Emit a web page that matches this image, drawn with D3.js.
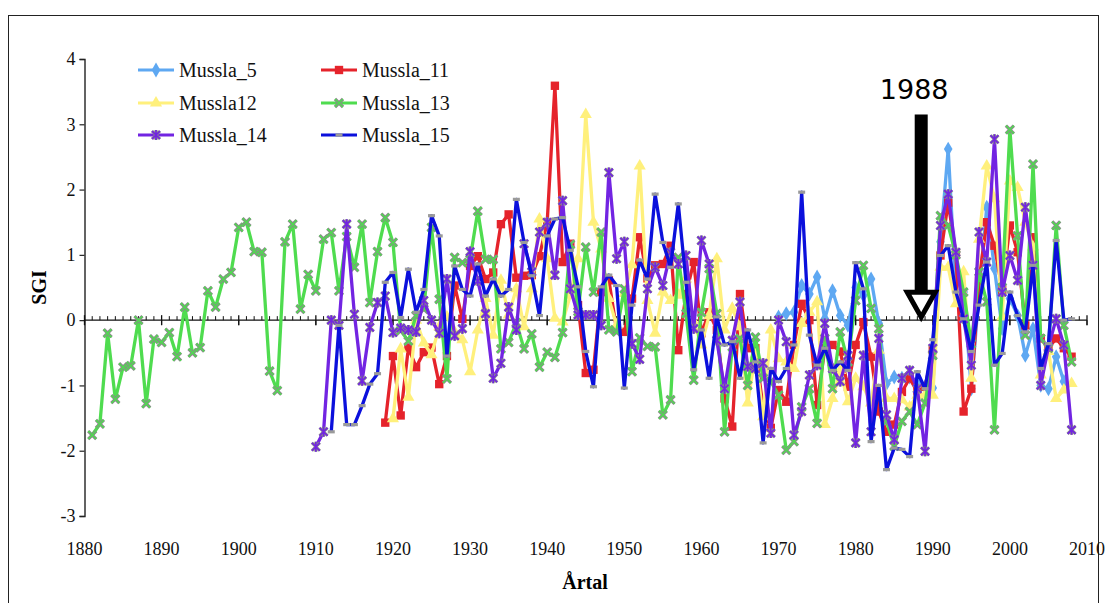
<!DOCTYPE html>
<html>
<head>
<meta charset="utf-8">
<script src="https://cdn.jsdelivr.net/npm/d3@7"></script>
<style>
  body { margin: 0; background: #fff; }
</style>
</head>
<body>
<div id="chartDiv"></div>
<script>
//--------------------------------------------------------------------------------
// SGI per year for six mussel sites
var xTicks = [1880, 1890, 1900, 1910, 1920, 1930, 1940, 1950, 1960, 1970, 1980, 1990, 2000, 2010];
var yTicks = [-3, -2, -1, 0, 1, 2, 3, 4];

var mussla5Start = 1970;
var mussla5 = [0.05,0.10,0.12,0.53,0.40,0.66,0.02,0.45,0.07,-0.08,
               0.50,0.38,0.63,-0.05,-0.97,-0.87,-0.89,-0.87,-0.94,-1.02,
               -1.04,1.20,2.62,0.43,0.43,-1.05,0.43,1.73,0.79,-0.13,
               0.33,0.07,-0.54,-0.13,-1.00,-1.05,-0.56,-0.94];

var mussla11Start = 1919;
var mussla11 = [-1.57,
               -0.55,-1.46,-0.42,-0.72,-0.49,-0.42,-0.98,-0.55,0.53,0.02,
               0.83,0.98,0.63,0.73,1.47,1.62,0.65,0.68,0.69,0.98,
               1.50,3.59,0.89,1.17,0.23,-0.81,-0.76,0.43,0.61,-0.15,
               -0.18,0.33,1.27,0.64,0.84,0.86,1.14,-0.46,0.40,0.89,
               -0.20,0.12,-0.15,-1.20,-1.63,0.40,-0.43,-0.43,-1.35,-1.65,
               -1.07,-1.25,-0.38,0.25,0.00,-1.30,-0.43,-0.38,-0.48,-1.02,
               -0.38,-0.03,-0.56,-1.40,-1.71,-1.60,-1.10,-0.89,-1.10,-1.02,
               -0.46,0.99,1.80,1.02,-1.40,-1.05,0.61,1.50,1.14,0.46,
               1.45,1.04,-0.08,1.27,-0.28,-0.43,-0.28,-0.43,-0.56];

var mussla12Start = 1920;
var mussla12 = [-1.51,-0.44,-1.18,0.00,-0.35,-0.53,-0.10,0.05,-0.18,-0.30,
               -0.79,-0.15,0.33,-0.23,0.61,0.08,0.48,-0.10,0.48,1.55,
               0.94,0.03,-0.03,0.38,0.94,3.15,1.50,1.09,0.33,-0.08,
               0.41,0.85,2.36,0.30,-0.20,0.43,0.30,0.38,0.63,-0.03,
               -0.38,0.07,0.94,-0.15,0.18,-0.10,-1.27,-0.53,-1.48,-0.15,
               -0.59,-0.64,-0.74,-0.05,0.12,0.28,-1.60,-1.20,-0.77,-1.25,
               -0.89,-1.02,-1.27,-0.46,-1.20,-1.20,-1.22,-1.33,-1.15,-1.15,
               -1.15,0.81,0.81,0.25,0.74,-0.89,1.24,2.36,1.86,0.05,
               2.13,2.03,1.50,1.12,-0.84,-0.48,-1.20,-1.07,-0.97];

var mussla13Start = 1881;
var mussla13 = [-1.76,-1.59,-0.20,-1.21,-0.72,-0.70,0.00,-1.28,-0.29,
               -0.34,-0.19,-0.56,0.20,-0.50,-0.42,0.45,0.20,0.63,0.73,
               1.42,1.50,1.05,1.04,-0.78,-1.08,1.20,1.47,0.17,0.70,
               0.45,1.24,1.34,0.45,1.28,0.81,1.47,0.27,1.05,1.57,
               1.19,-0.16,-0.32,0.07,0.17,1.42,0.32,-0.90,0.96,0.88,
               0.93,1.67,0.93,0.93,-0.44,-0.34,-0.04,-0.44,-0.21,-0.72,
               -0.49,-0.57,-0.19,1.16,0.13,1.12,0.43,1.35,-0.15,-0.18,
               0.48,-0.79,-0.27,-0.40,-0.41,-1.45,-1.22,0.96,0.10,-0.92,
               0.12,0.79,0.10,-1.71,-0.41,-0.28,-1.00,-0.26,-0.89,-0.94,
               -1.15,-1.99,-1.86,-1.33,-1.05,-1.58,-0.28,-1.05,-0.18,-0.64,
               0.30,0.84,0.18,-0.13,-1.55,-1.93,-1.55,-1.40,-1.60,-1.27,
               -0.54,1.60,1.45,1.00,0.43,-0.36,0.74,0.28,-1.68,0.50,
               2.92,1.29,-0.23,2.39,-0.28,-0.43,1.45,-0.08,-0.64];

var mussla14Start = 1910;
var mussla14 = [-1.94,-1.71,0.00,-0.08,1.47,0.09,-0.93,-0.11,0.27,0.37,
               -0.19,-0.12,-0.15,-0.18,0.30,0.00,-0.20,0.63,-0.24,-0.13,
               1.05,0.60,0.10,-0.89,-0.66,0.20,-0.15,1.17,0.74,1.35,
               1.50,0.69,1.83,0.48,0.08,0.08,0.08,-0.08,2.26,0.94,
               1.20,-0.36,-0.60,0.48,0.81,0.53,1.04,0.86,0.99,-0.13,
               1.22,0.86,-0.31,-1.05,-0.31,0.28,-0.71,-0.74,-0.66,-1.73,
               0.00,-0.33,-1.76,-1.40,-0.84,-0.69,-0.05,-0.74,-0.94,-0.54,
               -1.88,-0.54,-1.71,-0.28,-1.45,-1.83,-0.89,-0.77,-1.05,-2.01,
               -0.43,1.45,1.93,1.04,0.02,-0.69,1.35,0.89,2.77,0.43,
               0.99,0.61,1.73,0.84,-1.00,-0.41,0.02,-0.38,-1.68];

var mussla15Start = 1912;
var mussla15 = [-1.71,-0.08,-1.60,-1.60,-1.31,-0.98,-0.82,0.58,
               0.73,0.04,0.78,0.12,0.47,1.60,1.29,-0.55,0.83,0.47,
               0.37,0.86,0.37,0.63,0.37,0.47,1.85,1.19,0.68,0.07,
               1.29,1.55,1.57,1.07,0.51,-0.48,-1.02,0.51,0.69,0.53,
               -1.04,0.23,0.92,0.63,1.93,1.19,0.81,1.78,0.58,-0.76,
               -0.15,-0.89,0.05,-0.38,-0.33,-0.89,-0.15,-0.64,-1.88,-0.74,
               -0.94,-0.74,-0.38,1.96,-0.23,-0.69,-0.43,-0.77,-0.64,-0.77,
               0.88,0.48,-1.86,-1.00,-2.29,-1.96,-1.98,-2.09,-0.79,-1.05,
               -0.30,0.99,1.14,0.43,0.02,-0.48,0.23,0.89,-0.69,-0.51,
               0.43,0.07,-0.18,0.84,-0.74,-0.36,1.22,0.00,0.02];

var seriesNames = ["Mussla_5", "Mussla_11", "Mussla12", "Mussla_13", "Mussla_14", "Mussla_15"];
var seriesStarts = [mussla5Start, mussla11Start, mussla12Start, mussla13Start, mussla14Start, mussla15Start];
var seriesValues = [mussla5, mussla11, mussla12, mussla13, mussla14, mussla15];

var annotationYear = 1988.5;   // the arrow sits just right of the 1988 tick
var annotationLabel = "1988";
//--------------------------------------------------------------------------------
var colors  = ["#5ea8f2", "#e5232b", "#fff07c", "#4fdc4f", "#7224e2", "#0b10dc"];
var markers = ["diamond", "square", "triangle", "cross", "star", "dash"];
var serif = "'Liberation Serif', 'Times New Roman', Times, serif";

var width = 1105, height = 603;

var svg = d3.select("#chartDiv").append("svg")
    .attr("width", width)
    .attr("height", height);

  // outer frame of the picture, runs off the bottom edge
svg.append("rect")
   .attr("x", 8.5).attr("y", 15.5)
   .attr("width", 1090).attr("height", 620)
   .attr("fill", "none").attr("stroke", "#222").attr("stroke-width", 1);

var xScale = d3.scaleLinear().domain([1880, 2010]).range([84.5, 1087]);
var yScale = d3.scaleLinear().domain([-3, 4]).range([516, 59]);

//--------------------------------------------------------------------------------
// axes
var yAxis = d3.axisLeft(yScale).tickValues(yTicks).tickSize(5)
              .tickFormat(function(d){ return String(d); });   // plain hyphen minus
var gy = svg.append("g")
   .attr("transform", "translate(" + xScale(1880) + ",0)")
   .call(yAxis);
gy.select(".domain").attr("stroke", "#222").attr("stroke-width", 1.4);
gy.selectAll(".tick line").attr("stroke", "#222").attr("stroke-width", 1.2);
gy.selectAll(".tick text")
  .attr("x", -9)
  .style("font-family", serif)
  .style("font-size", "18px")
  .attr("fill", "#111");

  // x axis runs along SGI = 0, minor tick for every year
var years = d3.range(1880, 2011);
var gx = svg.append("g");
gx.append("line")
  .attr("x1", xScale(1880)).attr("x2", xScale(2010))
  .attr("y1", yScale(0)).attr("y2", yScale(0))
  .attr("stroke", "#111").attr("stroke-width", 1.4);
gx.selectAll("line.minor")
  .data(years)
  .enter().append("line")
  .attr("class", "minor")
  .attr("x1", function(d){ return xScale(d); })
  .attr("x2", function(d){ return xScale(d); })
  .attr("y1", yScale(0))
  .attr("y2", function(d){ return d % 10 == 0 ? yScale(0) + 5 : yScale(0) - 4; })
  .attr("stroke", "#111").attr("stroke-width", 1);
gx.selectAll("line.major")
  .data(xTicks)
  .enter().append("line")
  .attr("class", "major")
  .attr("x1", function(d){ return xScale(d); })
  .attr("x2", function(d){ return xScale(d); })
  .attr("y1", yScale(0) - 5)
  .attr("y2", yScale(0) + 5)
  .attr("stroke", "#111").attr("stroke-width", 1.3);

  // year labels sit below the plot, not on the zero line
svg.append("g").selectAll("text")
   .data(xTicks)
   .enter().append("text")
   .attr("x", function(d){ return xScale(d); })
   .attr("y", yScale(-3) + 39)
   .attr("text-anchor", "middle")
   .style("font-family", serif)
   .style("font-size", "18px")
   .attr("fill", "#111")
   .text(function(d){ return d; });

svg.append("text")
   .attr("x", 585).attr("y", 589)
   .attr("text-anchor", "middle")
   .style("font-family", serif)
   .style("font-size", "20px").style("font-weight", "bold")
   .text("Årtal");

svg.append("text")
   .attr("transform", "translate(46," + yScale(0.5) + ") rotate(-90)")
   .attr("text-anchor", "middle")
   .style("font-family", serif)
   .style("font-size", "20px").style("font-weight", "bold")
   .text("SGI");

//--------------------------------------------------------------------------------
function drawMarker(g, type, color, x, y) {
  if(type == "diamond"){
     g.append("path").attr("d", d3.symbol(d3.symbolDiamond, 64)())
      .attr("transform", "translate(" + x + "," + y + ")")
      .attr("fill", color);
     }
  else if(type == "square"){
     g.append("path").attr("d", d3.symbol(d3.symbolSquare, 70)())
      .attr("transform", "translate(" + x + "," + y + ")")
      .attr("fill", color);
     }
  else if(type == "triangle"){
     g.append("path").attr("d", d3.symbol(d3.symbolTriangle, 64)())
      .attr("transform", "translate(" + x + "," + y + ")")
      .attr("fill", color);
     }
  else if(type == "cross"){
     var p = "M-4,-4L4,4M-4,4L4,-4";
     g.append("path").attr("d", p).attr("transform", "translate(" + x + "," + y + ")")
      .attr("stroke", "#8a8a8a").attr("stroke-width", 3.2);
     g.append("path").attr("d", p).attr("transform", "translate(" + x + "," + y + ")")
      .attr("stroke", color).attr("stroke-width", 1.4);
     }
  else if(type == "star"){
     var p = "M-4,-4L4,4M-4,4L4,-4M0,-5L0,5";
     g.append("path").attr("d", p).attr("transform", "translate(" + x + "," + y + ")")
      .attr("stroke", "#8a8a8a").attr("stroke-width", 3);
     g.append("path").attr("d", p).attr("transform", "translate(" + x + "," + y + ")")
      .attr("stroke", color).attr("stroke-width", 1.6);
     }
  else if(type == "dash"){
     g.append("rect").attr("x", x - 3.5).attr("y", y - 1.6)
      .attr("width", 7).attr("height", 3.2)
      .attr("fill", "#9a9a9a");
     }
} // drawMarker
//--------------------------------------------------------------------------------
var line = d3.line()
   .x(function(d){ return xScale(d.year); })
   .y(function(d){ return yScale(d.value); });

for(var s=0; s < seriesNames.length; s++){
   var points = seriesValues[s].map(function(v, i){
       return {year: seriesStarts[s] + i, value: v};
       });
   var g = svg.append("g").attr("class", "series");
   g.append("path")
    .datum(points)
    .attr("d", line)
    .attr("fill", "none")
    .attr("stroke", colors[s])
    .attr("stroke-width", 3.3)
    .attr("stroke-linejoin", "round");
   for(var i=0; i < points.length; i++)
      drawMarker(g, markers[s], colors[s], xScale(points[i].year), yScale(points[i].value));
   } // for s

//--------------------------------------------------------------------------------
// legend, two columns by three rows
var legendCols = [138, 321];
var legendRows = [70, 103, 135];
for(var s=0; s < seriesNames.length; s++){
   var lx = legendCols[s % 2];
   var ly = legendRows[Math.floor(s / 2)];
   var lg = svg.append("g").attr("class", "legend");
   lg.append("line")
     .attr("x1", lx).attr("x2", lx + 36)
     .attr("y1", ly).attr("y2", ly)
     .attr("stroke", colors[s]).attr("stroke-width", 3);
   drawMarker(lg, markers[s], colors[s], lx + 18, ly);
   lg.append("text")
     .attr("x", lx + 41).attr("y", ly + 6.5)
     .style("font-family", serif)
     .style("font-size", "20px")
     .attr("fill", "#111")
     .text(seriesNames[s]);
   }

//--------------------------------------------------------------------------------
// 1988 arrow annotation
var ax = xScale(annotationYear);
var tipY = yScale(0);
svg.append("rect")
   .attr("x", ax - 6.5).attr("y", yScale(3.15))
   .attr("width", 13).attr("height", tipY - 29 - yScale(3.15))
   .attr("fill", "#000");
svg.append("path")
   .attr("d", "M" + (ax - 14) + "," + (tipY - 28) + "L" + (ax + 14) + "," + (tipY - 28) +
              "L" + ax + "," + (tipY - 3) + "Z")
   .attr("fill", "#fff").attr("stroke", "#000").attr("stroke-width", 5)
   .attr("stroke-linejoin", "miter");
svg.append("text")
   .attr("x", ax - 7).attr("y", 99)
   .attr("text-anchor", "middle")
   .style("font-family", "'DejaVu Sans', Verdana, sans-serif")
   .style("font-size", "27px")
   .attr("fill", "#000")
   .text(annotationLabel);
</script>
</body>
</html>
